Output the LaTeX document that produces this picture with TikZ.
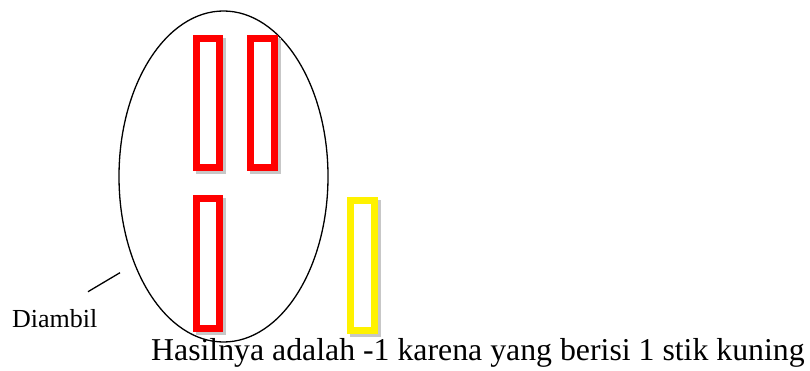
\documentclass[tikz,border=0pt]{standalone}
\usepackage{fontspec}
\setmainfont{Liberation Serif}
\usetikzlibrary{shapes.geometric}
\begin{document}
\begin{tikzpicture}[x=1pt,y=-1pt,
  stickshadow/.style={fill=black!22,draw=none},
  stickred/.style={draw=red,line width=7pt,fill=white},
  stickyellow/.style={draw=yellow,line width=7pt,fill=white},
  lbl/.style={inner sep=0pt,anchor=base west}]
\useasboundingbox[fill=white] (0,0) rectangle (810,371);
% ellipse
\node[draw,line width=1.3pt,ellipse,minimum width=209pt,minimum height=331pt,inner sep=0pt] (ell) at (223.5,176.5) {};
% sticks: shadows
\fill[stickshadow] (195.7,38) rectangle (226.3,174);
\fill[stickshadow] (250.3,38) rectangle (280.7,174);
\fill[stickshadow] (195.7,198) rectangle (226.3,334.7);
\fill[stickshadow] (350.3,200.3) rectangle (380.5,337);
% sticks
\draw[stickred] (196.2,38.5) rectangle (219.8,167.5);
\draw[stickred] (250.8,38.5) rectangle (274.2,167.5);
\draw[stickred] (196.2,198.5) rectangle (219.8,328.2);
\draw[stickyellow] (350.8,200.8) rectangle (374.0,330.5);
% pointer line
\coordinate (p1) at (88,291.7);
\coordinate (p2) at (120,272.7);
\draw[line width=1.3pt] (p1) -- (p2);
% labels
\node[lbl,font=\fontsize{26}{30}\selectfont] (dia) at (12,327) {Diambil};
\node[lbl,font=\fontsize{31.8}{36}\selectfont] (res) at (151,360) {Hasilnya adalah -1 karena yang berisi 1 stik kuning};
\end{tikzpicture}
\end{document}
